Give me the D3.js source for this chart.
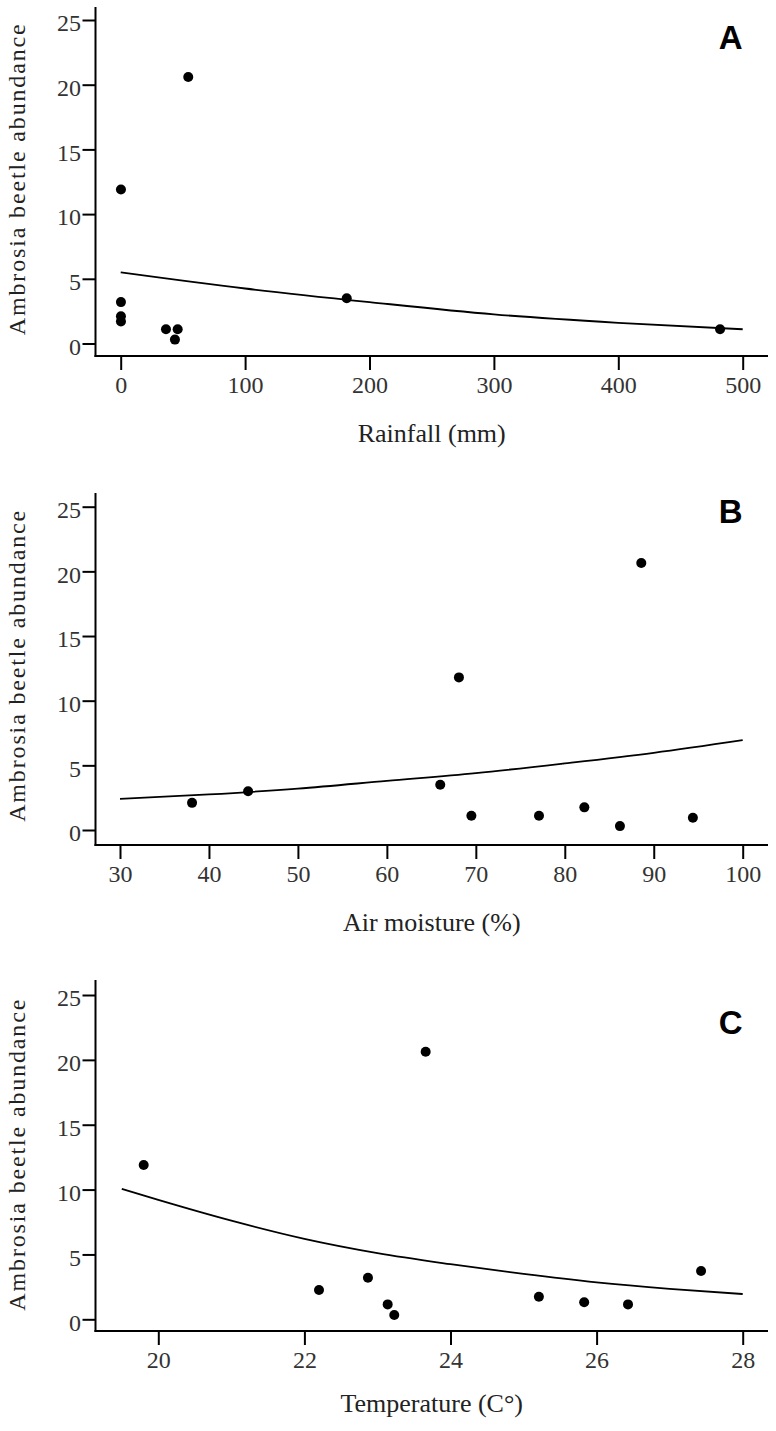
<!DOCTYPE html>
<html>
<head>
<meta charset="utf-8">
<script src="https://cdn.jsdelivr.net/npm/d3@7"></script>
<style>
  html, body { margin: 0; padding: 0; background: #fff; }
  svg { display: block; }
</style>
</head>
<body>
<svg id="chart" width="776" height="1431"></svg>
<script>
// ---------- data ----------
const yTicks = [0, 5, 10, 15, 20, 25];
const yTitle = "Ambrosia beetle abundance";

// Panel A: rainfall
const rainfallX = [54.3, 0.2, 0.2, 0.2, 0.2, 36.4, 45.8, 43.6, 181.7, 481.8];
const rainfallY = [20.6, 11.9, 3.2, 2.1, 1.7, 1.1, 1.1, 0.3, 3.5, 1.1];
const rainfallFitX = [0, 100, 200, 300, 400, 500];
const rainfallFitY = [5.5, 4.25, 3.2, 2.25, 1.6, 1.1];
const rainfallTicks = [0, 100, 200, 300, 400, 500];

// Panel B: air moisture
const moistureX = [38.1, 44.4, 66.0, 68.1, 69.5, 77.1, 82.2, 86.2, 88.6, 94.4];
const moistureY = [2.1, 3.0, 3.5, 11.8, 1.1, 1.1, 1.75, 0.3, 20.65, 0.95];
const moistureFitX = [30, 40, 50, 60, 70, 80, 90, 100];
const moistureFitY = [2.4, 2.75, 3.2, 3.8, 4.4, 5.15, 5.97, 6.95];
const moistureTicks = [30, 40, 50, 60, 70, 80, 90, 100];

// Panel C: temperature
const temperatureX = [19.8, 22.2, 22.87, 23.14, 23.23, 23.66, 25.21, 25.83, 26.43, 27.43];
const temperatureY = [11.9, 2.26, 3.2, 1.15, 0.33, 20.63, 1.74, 1.31, 1.15, 3.72];
const temperatureFitX = [19.5, 20, 21, 22, 23, 24, 25, 26, 27, 28];
const temperatureFitY = [10.05, 9.2, 7.6, 6.2, 5.1, 4.25, 3.5, 2.85, 2.35, 1.95];
const temperatureTicks = [20, 22, 24, 26, 28];

const panels = [
  { letter: "A", title: "Rainfall (mm)", xs: rainfallX, ys: rainfallY, fx: rainfallFitX, fy: rainfallFitY,
    ticks: rainfallTicks, xDomain: [0, 500], xRange: [120.7, 742.7],
    y0: 343.5, y25: 20, axisY: 356, axisTop: 7, letterY: 48.5, titleDy: 86 },
  { letter: "B", title: "Air moisture (%)", xs: moistureX, ys: moistureY, fx: moistureFitX, fy: moistureFitY,
    ticks: moistureTicks, xDomain: [30, 100], xRange: [120, 742.7],
    y0: 830, y25: 506.7, axisY: 845, axisTop: 493, letterY: 522.7, titleDy: 86 },
  { letter: "C", title: "Temperature (C\u00B0)", xs: temperatureX, ys: temperatureY, fx: temperatureFitX, fy: temperatureFitY,
    ticks: temperatureTicks, xDomain: [20, 28], xRange: [158.3, 742.7],
    y0: 1319.3, y25: 995, axisY: 1331, axisTop: 980, letterY: 1034, titleDy: 81 }
];

// ---------- drawing ----------
const svg = d3.select("#chart");
const axisLeftX = 95.5;
const axisRightX = 768;
const serif = "'Liberation Serif', 'Times New Roman', serif";

panels.forEach(p => {
  const g = svg.append("g");
  const x = d3.scaleLinear().domain(p.xDomain).range(p.xRange);
  const y = d3.scaleLinear().domain([0, 25]).range([p.y0, p.y25]);

  // axis lines
  g.append("line").attr("x1", axisLeftX).attr("x2", axisLeftX)
    .attr("y1", p.axisTop).attr("y2", p.axisY + 1)
    .attr("stroke", "#000").attr("stroke-width", 2);
  g.append("line").attr("x1", axisLeftX - 1).attr("x2", axisRightX)
    .attr("y1", p.axisY).attr("y2", p.axisY)
    .attr("stroke", "#000").attr("stroke-width", 2);

  // y axis ticks
  const ya = g.append("g").attr("transform", `translate(${axisLeftX},0)`)
    .call(d3.axisLeft(y).tickValues(yTicks).tickSize(13).tickPadding(1.5).tickSizeOuter(0));
  ya.select(".domain").remove();
  ya.selectAll(".tick line").attr("stroke", "#000").attr("stroke-width", 2);
  ya.selectAll(".tick text").attr("font-family", serif).attr("font-size", 24)
    .attr("fill", "#333").attr("dy", "0.45em");

  // x axis ticks
  const xa = g.append("g").attr("transform", `translate(0,${p.axisY})`)
    .call(d3.axisBottom(x).tickValues(p.ticks).tickSize(14).tickPadding(6).tickSizeOuter(0));
  xa.select(".domain").remove();
  xa.selectAll(".tick line").attr("stroke", "#000").attr("stroke-width", 2);
  xa.selectAll(".tick text").attr("font-family", serif).attr("font-size", 24).attr("fill", "#333");

  // fitted curve
  const fitData = p.fx.map((v, i) => [v, p.fy[i]]);
  g.append("path").datum(fitData)
    .attr("fill", "none").attr("stroke", "#000").attr("stroke-width", 1.8)
    .attr("d", d3.line().x(d => x(d[0])).y(d => y(d[1])).curve(d3.curveMonotoneX));

  // points
  const pts = p.xs.map((v, i) => [v, p.ys[i]]);
  g.selectAll("circle.pt").data(pts).join("circle").attr("class", "pt")
    .attr("cx", d => x(d[0])).attr("cy", d => y(d[1])).attr("r", 5).attr("fill", "#000");

  // y title
  const yc = (p.y0 + p.y25) / 2 - 2;
  g.append("text")
    .attr("transform", `translate(25,${yc}) rotate(-90)`)
    .attr("text-anchor", "middle")
    .attr("font-family", serif).attr("font-size", 24).attr("fill", "#222")
    .attr("textLength", 311).attr("lengthAdjust", "spacing")
    .text(yTitle);

  // x title
  g.append("text")
    .attr("x", (axisLeftX + axisRightX) / 2).attr("y", p.axisY + p.titleDy)
    .attr("text-anchor", "middle")
    .attr("font-family", serif).attr("font-size", 26).attr("fill", "#222")
    .text(p.title);

  // panel letter
  g.append("text")
    .attr("x", 742.5).attr("y", p.letterY)
    .attr("text-anchor", "end")
    .attr("font-family", "'Liberation Sans', Arial, sans-serif").attr("font-weight", "bold")
    .attr("font-size", 33).attr("fill", "#000")
    .text(p.letter);
});
</script>
</body>
</html>
